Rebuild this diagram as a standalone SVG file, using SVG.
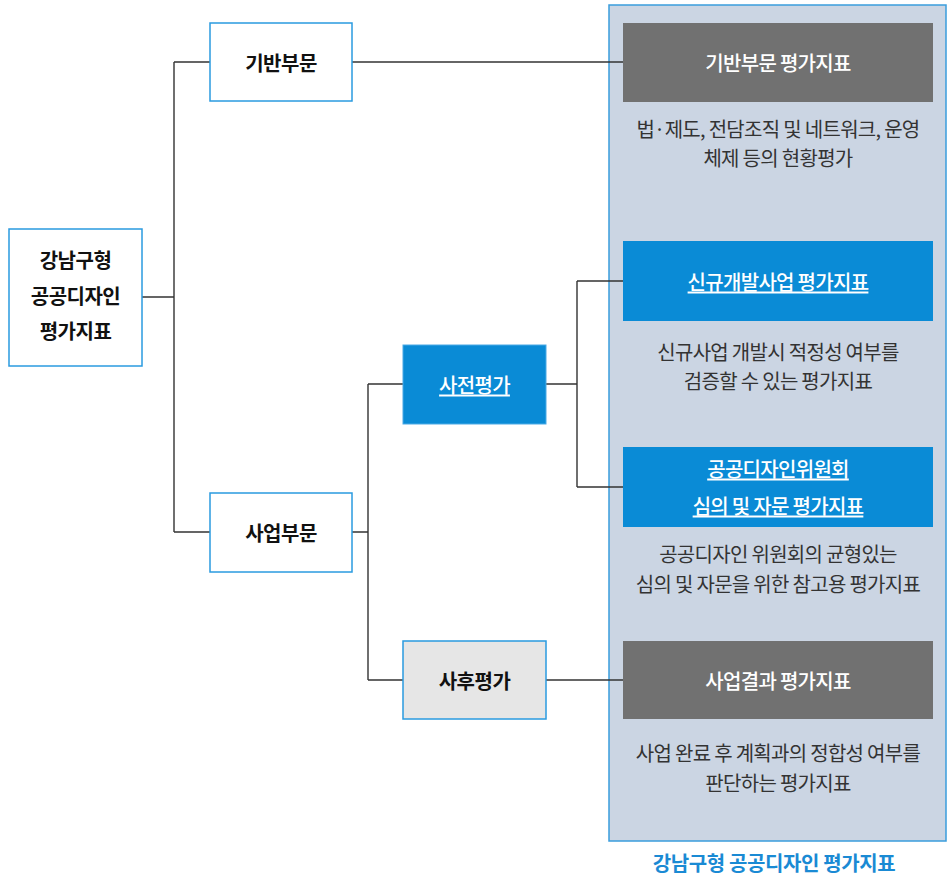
<svg xmlns="http://www.w3.org/2000/svg" width="950" height="878" viewBox="0 0 950 878">
<style>
text{font-family:"Noto Sans CJK KR","Noto Sans",sans-serif;font-size:20px;text-anchor:middle;dominant-baseline:central;letter-spacing:-0.7px}
.node{fill:#fff;stroke:#2a9be0;stroke-width:1.5}
.lbl{fill:#111;font-weight:700;letter-spacing:-0.5px}
.hdr-g{fill:#717171}
.hdr-b{fill:#0a8bd6}
.wt{fill:#fff;font-weight:500}
.ul{text-decoration:underline}
.desc{fill:#333;font-weight:400}
.conn{fill:none;stroke:#333;stroke-width:1.4}
</style>
<rect x="0" y="0" width="950" height="878" fill="#fff"/>
<g id="panel">
<rect x="609" y="5" width="337" height="836" fill="#cbd5e3" stroke="#3a9ddd" stroke-width="1.5"/>
<text x="774" y="862" style="fill:#1a8ad4;font-weight:700;letter-spacing:-0.4px">강남구형 공공디자인 평가지표</text>
</g>
<g id="connectors">
<path class="conn" d="M142 297 H174 M174 62 V532 M174 62 H210 M174 532 H210"/>
<path class="conn" d="M352 62 H623"/>
<path class="conn" d="M352 532 H368 M368 384 V680 M368 384 H403 M368 680 H403"/>
<path class="conn" d="M546 384 H577 M577 281 V487 M577 281 H623 M577 487 H623"/>
<path class="conn" d="M546 680 H623"/>
</g>
<g id="root">
<rect class="node" x="9" y="229" width="133" height="137"/>
<text class="lbl" x="75.5" y="259">강남구형</text>
<text class="lbl" x="75.5" y="295">공공디자인</text>
<text class="lbl" x="75.5" y="330">평가지표</text>
</g>
<g id="gibanbumun">
<rect class="node" x="210" y="23" width="142" height="78"/>
<text class="lbl" x="281" y="62">기반부문</text>
</g>
<g id="saeopbumun">
<rect class="node" x="210" y="493" width="142" height="79"/>
<text class="lbl" x="281" y="532">사업부문</text>
</g>
<g id="sajeon">
<rect x="403" y="345" width="143" height="79" fill="#0a8bd6" stroke="#4aaae6" stroke-width="1"/>
<text class="wt ul" x="474.5" y="384">사전평가</text>
</g>
<g id="sahu">
<rect x="403" y="641" width="143" height="78" fill="#e6e6e6" stroke="#2a9be0" stroke-width="1.5"/>
<text class="lbl" x="474.5" y="680">사후평가</text>
</g>
<g id="giban-index">
<rect class="hdr-g" x="623" y="23" width="310" height="79"/>
<text class="wt" x="778" y="62">기반부문 평가지표</text>
<text class="desc" x="778" y="128">법·제도, 전담조직 및 네트워크, 운영</text>
<text class="desc" x="778" y="157">체제 등의 현황평가</text>
</g>
<g id="singyu-index">
<rect class="hdr-b" x="623" y="241" width="310" height="80"/>
<text class="wt ul" x="778" y="281">신규개발사업 평가지표</text>
<text class="desc" x="778" y="351">신규사업 개발시 적정성 여부를</text>
<text class="desc" x="778" y="380">검증할 수 있는 평가지표</text>
</g>
<g id="committee-index">
<rect class="hdr-b" x="623" y="447" width="310" height="80"/>
<text class="wt ul" x="778" y="468">공공디자인위원회</text>
<text class="wt ul" x="778" y="505">심의 및 자문 평가지표</text>
<text class="desc" x="778" y="553">공공디자인 위원회의 균형있는</text>
<text class="desc" x="778" y="583">심의 및 자문을 위한 참고용 평가지표</text>
</g>
<g id="result-index">
<rect class="hdr-g" x="623" y="641" width="310" height="78"/>
<text class="wt" x="778" y="680">사업결과 평가지표</text>
<text class="desc" x="778" y="752">사업 완료 후 계획과의 정합성 여부를</text>
<text class="desc" x="778" y="782">판단하는 평가지표</text>
</g>
</svg>
